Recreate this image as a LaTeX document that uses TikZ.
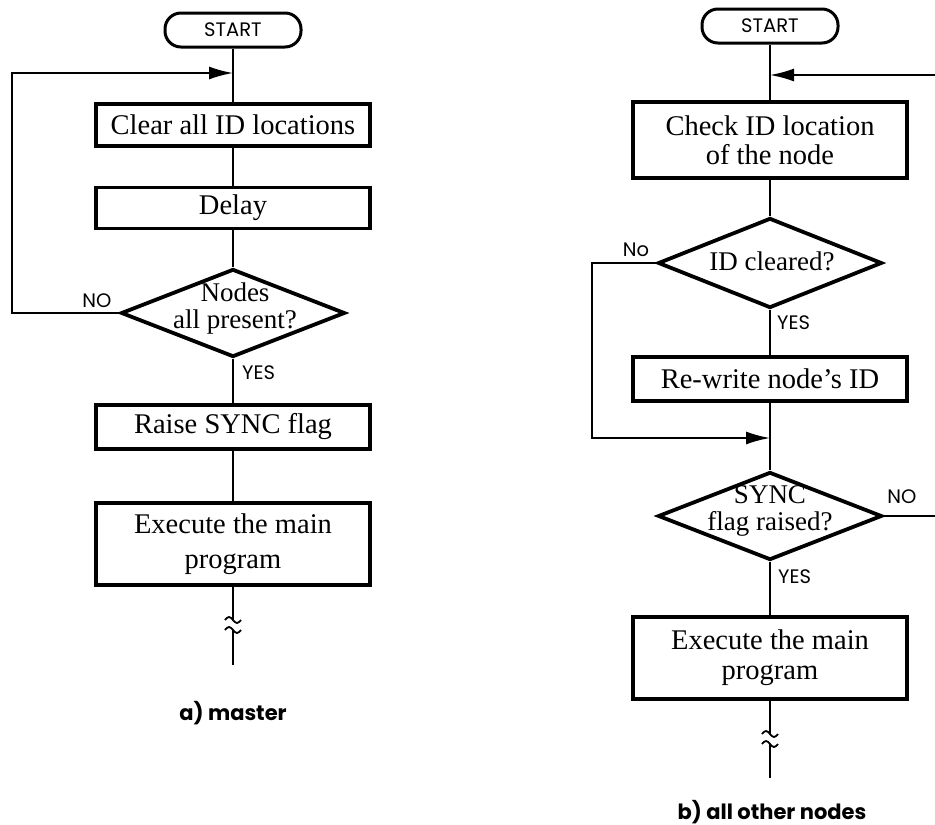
\documentclass[tikz,border=0pt]{standalone}
\usepackage{fontspec}
\setmainfont{Liberation Serif}
\newfontfamily\geofont{Poppins}
\usetikzlibrary{arrows.meta,shapes.geometric}

\begin{document}
\begin{tikzpicture}[x=1pt,y=-1pt,
  flow/.style={line width=1.8pt},
  arr/.style={flow,-{Latex[length=24pt,width=13pt]}},
  box/.style={draw,line width=3.8pt,rectangle,minimum width=274pt,inner sep=0pt,
    font=\fontsize{28.5}{32}\selectfont,align=center},
  term/.style={draw,line width=3pt,rounded corners=16pt,minimum width=136pt,
    minimum height=34pt,inner sep=0pt,font=\geofont\fontsize{19.5}{20}\selectfont},
  dec/.style={draw,diamond,line width=3.8pt,minimum width=224pt,minimum height=88pt,inner sep=0pt},
  dectext/.style={font=\fontsize{27}{27}\selectfont,align=center,inner sep=0pt},
  tag/.style={font=\geofont\fontsize{19.5}{20}\selectfont,inner sep=0pt},
  caption/.style={font=\geofont\bfseries\fontsize{21}{22}\selectfont,inner sep=0pt},
  brk/.pic={\draw[flow] (-8,0) sin (-4,-3) cos (0,0) sin (4,3) cos (8,0);}
]
\useasboundingbox (0,0) rectangle (935,825);

% ---------- a) master ----------
\node[term] (sA) at (233,30) {START};
\node[box,minimum height=42pt] (clr) at (233,125) {Clear all ID locations};
\node[box,minimum height=41pt] (dly) at (233,208) {Delay};
\node[dec] (nap) at (233,313) {};
\node[dectext] (napt) at (235,309) {Nodes\\all present?};
\node[box,minimum height=44pt] (rs) at (233,427) {Raise SYNC flag};
\node[box,minimum height=82pt,font=\fontsize{28.5}{35}\selectfont] (exA) at (233,544) {Execute the main\\program};

\coordinate (jA) at (233,73);
\coordinate (lA1) at (12,313);
\coordinate (lA2) at (12,73);
\coordinate (bA1) at (233,620);
\coordinate (bA2) at (233,630);
\coordinate (eA) at (233,665);

\draw[flow] (sA) -- (clr);
\draw[flow] (clr) -- (dly);
\draw[flow] (dly) -- (nap);
\draw[flow] (nap) -- (rs);
\draw[flow] (rs) -- (exA);
\draw[flow] (exA) -- (bA1);
\pic at (bA1) {brk};
\pic at (bA2) {brk};
\draw[flow] (bA2) -- (eA);
\draw[arr] (nap.west) -- (lA1) -- (lA2) -- (jA);

\node[tag] (noA) at (97,301) {NO};
\node[tag,anchor=west] (yesA) at (242,373) {YES};
\node[caption] (capA) at (233,713) {a) master};

% ---------- b) all other nodes ----------
\node[term] (sB) at (770,26) {START};
\node[box,minimum height=76pt,font=\fontsize{28.5}{29}\selectfont] (chk) at (770,140) {Check ID location\\of the node};
\node[dec,minimum height=90pt] (idc) at (770,263) {};
\node[dectext] (idct) at (772,261) {ID cleared?};
\node[box,minimum height=44pt] (rw) at (770,379) {Re-write node’s ID};
\node[dec] (sfr) at (770,516) {};
\node[dectext] (sfrt) at (770,511) {SYNC\\flag raised?};
\node[box,minimum height=82pt,font=\fontsize{28.5}{30}\selectfont] (exB) at (770,658) {Execute the main\\program};

\coordinate (jB) at (770,75);
\coordinate (rB1) at (940,516);
\coordinate (rB2) at (940,75);
\coordinate (jB2) at (770,438);
\coordinate (lB1) at (592,263);
\coordinate (lB2) at (592,438);
\coordinate (bB1) at (770,734);
\coordinate (bB2) at (770,744);
\coordinate (eB) at (770,778);

\draw[flow] (sB) -- (chk);
\draw[flow] (chk) -- (idc);
\draw[flow] (idc) -- (rw);
\draw[flow] (rw) -- (sfr);
\draw[flow] (sfr) -- (exB);
\draw[flow] (exB) -- (bB1);
\pic at (bB1) {brk};
\pic at (bB2) {brk};
\draw[flow] (bB2) -- (eB);
\draw[arr] (idc.west) -- (lB1) -- (lB2) -- (jB2);
\draw[arr] (sfr.east) -- (rB1) -- (rB2) -- (jB);

\node[tag] (noB) at (636,250) {No};
\node[tag,anchor=west] (yesB) at (777,323) {YES};
\node[tag] (noB2) at (902,497) {NO};
\node[tag,anchor=west] (yesB2) at (778,577) {YES};
\node[caption] (capB) at (772,812) {b) all other nodes};
\end{tikzpicture}
\end{document}
